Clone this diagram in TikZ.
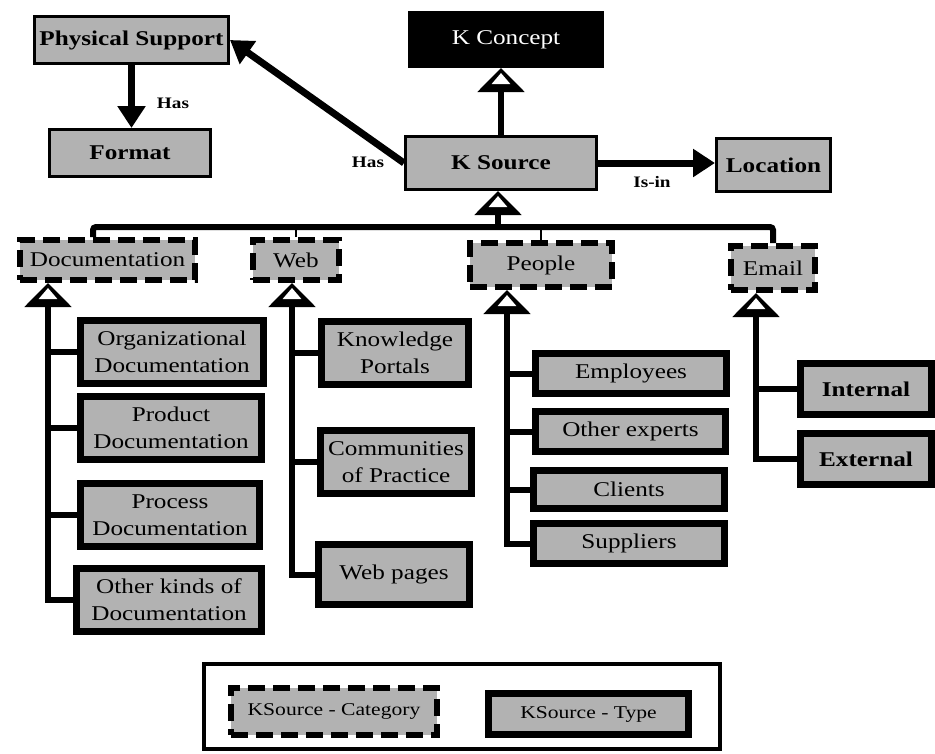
\documentclass[tikz,border=0pt]{standalone}
\usepackage{fontspec}
\setmainfont{Liberation Serif}[FakeStretch=1.2]
\usetikzlibrary{arrows.meta}

\tikzset{
  shade/.style={fill=black!30},
  topbox/.style={draw, line width=3pt, shade, inner sep=0pt,
    font=\bfseries\fontsize{21}{26}\selectfont},
  kindbox/.style={draw, line width=6.5pt, shade, inner sep=0pt, align=center,
    font=\fontsize{21}{27}\selectfont},
  catbox/.style={draw, line width=6pt, dash pattern=on 17pt off 8pt, shade,
    inner sep=0pt, font=\fontsize{21}{26}\selectfont},
  relarrow/.style={line width=7pt, -{Triangle[length=22pt,width=27pt]}},
  % hollow triangle drawn as a black triangle with a small white one on top
  genarrow/.style={line width=6pt,
    -{Triangle[length=24pt,width=46pt,sep=-16pt]
      Triangle[color=white,length=11pt,width=18pt,sep=5pt]}},
  treeline/.style={line width=6pt},
  dropline/.style={line width=2pt},
  rellabel/.style={font=\bfseries\fontsize{16}{19}\selectfont, inner sep=1pt},
  legtext/.style={font=\fontsize{18}{22}\selectfont}
}

\begin{document}
\begin{tikzpicture}[x=1pt,y=-1pt]
\useasboundingbox (0,0) rectangle (935,753);

% upper concepts
\node[topbox, minimum width=194pt, minimum height=47pt] (phys) at (131.5,40) {Physical Support};
\node[topbox, minimum width=161pt, minimum height=47pt] (form) at (130,153) {Format};
\node[draw, fill=black, text=white, line width=2pt, inner sep=0pt,
      minimum width=194pt, minimum height=55pt,
      font=\fontsize{21}{26}\selectfont] (kcon) at (506,39.5) {K Concept};
\node[topbox, minimum width=191pt, minimum height=53pt] (ksrc) at (501,163) {K Source};
\node[topbox, minimum width=114pt, minimum height=53pt] (loc) at (773.5,165) {Location};

% categories
\node[catbox, minimum width=175pt, minimum height=40pt] (doc) at (107.5,260) {Documentation};
\node[catbox, minimum width=86pt, minimum height=40pt] (web) at (296,260) {Web};
\node[catbox, minimum width=142pt, minimum height=44pt] (ppl) at (541,265) {People};
\node[catbox, minimum width=84pt, minimum height=44pt] (eml) at (773,268) {Email};

% documentation types
\node[kindbox, minimum width=183pt, minimum height=63pt] (org) at (172,352) {Organizational\\Documentation};
\node[kindbox, minimum width=181pt, minimum height=63pt] (prd) at (171,428) {Product\\Documentation};
\node[kindbox, minimum width=179pt, minimum height=63pt] (prc) at (170,515) {Process\\Documentation};
\node[kindbox, minimum width=185pt, minimum height=63pt] (oth) at (169,600) {Other kinds of\\Documentation};

% web types
\node[kindbox, minimum width=147pt, minimum height=63pt] (kp) at (395,353) {Knowledge\\Portals};
\node[kindbox, minimum width=151pt, minimum height=63pt] (cop) at (396,462) {Communities\\of Practice};
\node[kindbox, minimum width=151pt, minimum height=60pt] (wpg) at (394,574.5) {Web pages};

% people types
\node[kindbox, minimum width=191pt, minimum height=40pt] (emp) at (631,373.5) {Employees};
\node[kindbox, minimum width=190pt, minimum height=40pt] (oex) at (630.5,431.5) {Other experts};
\node[kindbox, minimum width=191pt, minimum height=38pt] (cli) at (629,489.5) {Clients};
\node[kindbox, minimum width=191pt, minimum height=40pt] (sup) at (629,543.5) {Suppliers};

% email types
\node[kindbox, minimum width=131pt, minimum height=51pt, font=\bfseries\fontsize{21}{26}\selectfont] (int) at (866,389) {Internal};
\node[kindbox, minimum width=131pt, minimum height=51pt, font=\bfseries\fontsize{21}{26}\selectfont] (ext) at (866,459) {External};

% relations
\draw[relarrow] (phys.south) -- (phys.south |- form.north);
\node[rellabel] (hasA) at (173,103) {Has};
\draw[relarrow] (ksrc.west) -- (phys.east);
\node[rellabel] (hasB) at (368,162) {Has};
\draw[relarrow] (ksrc.east) -- (loc.west |- ksrc.east);
\node[rellabel] (isin) at (652,182) {Is-in};

% generalisation of K Source
\draw[genarrow] (ksrc.north) -- (ksrc.north |- kcon.south);

% bus joining the categories
\coordinate (bus) at (498,227);
\coordinate (docjoin) at (93,237);
\draw[treeline, rounded corners=3pt] (docjoin) |- (bus) -| (eml.north);
\draw[genarrow] (bus) -- (bus |- ksrc.south);
\draw[dropline] (web.north) -- (web.north |- bus);
\draw[dropline] (ppl.north) -- (ppl.north |- bus);

% documentation tree
\coordinate (doctip) at (48,283);
\draw[genarrow] (oth.west) -| (doctip);
\draw[treeline] (org.west) -- (org.west -| doctip);
\draw[treeline] (prd.west) -- (prd.west -| doctip);
\draw[treeline] (prc.west) -- (prc.west -| doctip);

% web tree
\coordinate (webtip) at (292,283);
\draw[genarrow] (wpg.west) -| (webtip);
\draw[treeline] (kp.west) -- (kp.west -| webtip);
\draw[treeline] (cop.west) -- (cop.west -| webtip);

% people tree
\coordinate (ppltip) at (507,290);
\draw[genarrow] (sup.west) -| (ppltip);
\draw[treeline] (emp.west) -- (emp.west -| ppltip);
\draw[treeline] (oex.west) -- (oex.west -| ppltip);
\draw[treeline] (cli.west) -- (cli.west -| ppltip);

% email tree
\coordinate (emltip) at (756,293);
\draw[genarrow] (ext.west) -| (emltip);
\draw[treeline] (int.west) -- (int.west -| emltip);

% legend
\node[draw, line width=4pt, minimum width=516pt, minimum height=85pt, inner sep=0pt] (legend) at (462,706.5) {};
\node[catbox, legtext, minimum width=206pt, minimum height=47pt] (legcat) at (334,711.5) {KSource - Category};
\node[kindbox, legtext, minimum width=200pt, minimum height=41pt] (legtype) at (588.5,714) {KSource - Type};
\end{tikzpicture}
\end{document}
